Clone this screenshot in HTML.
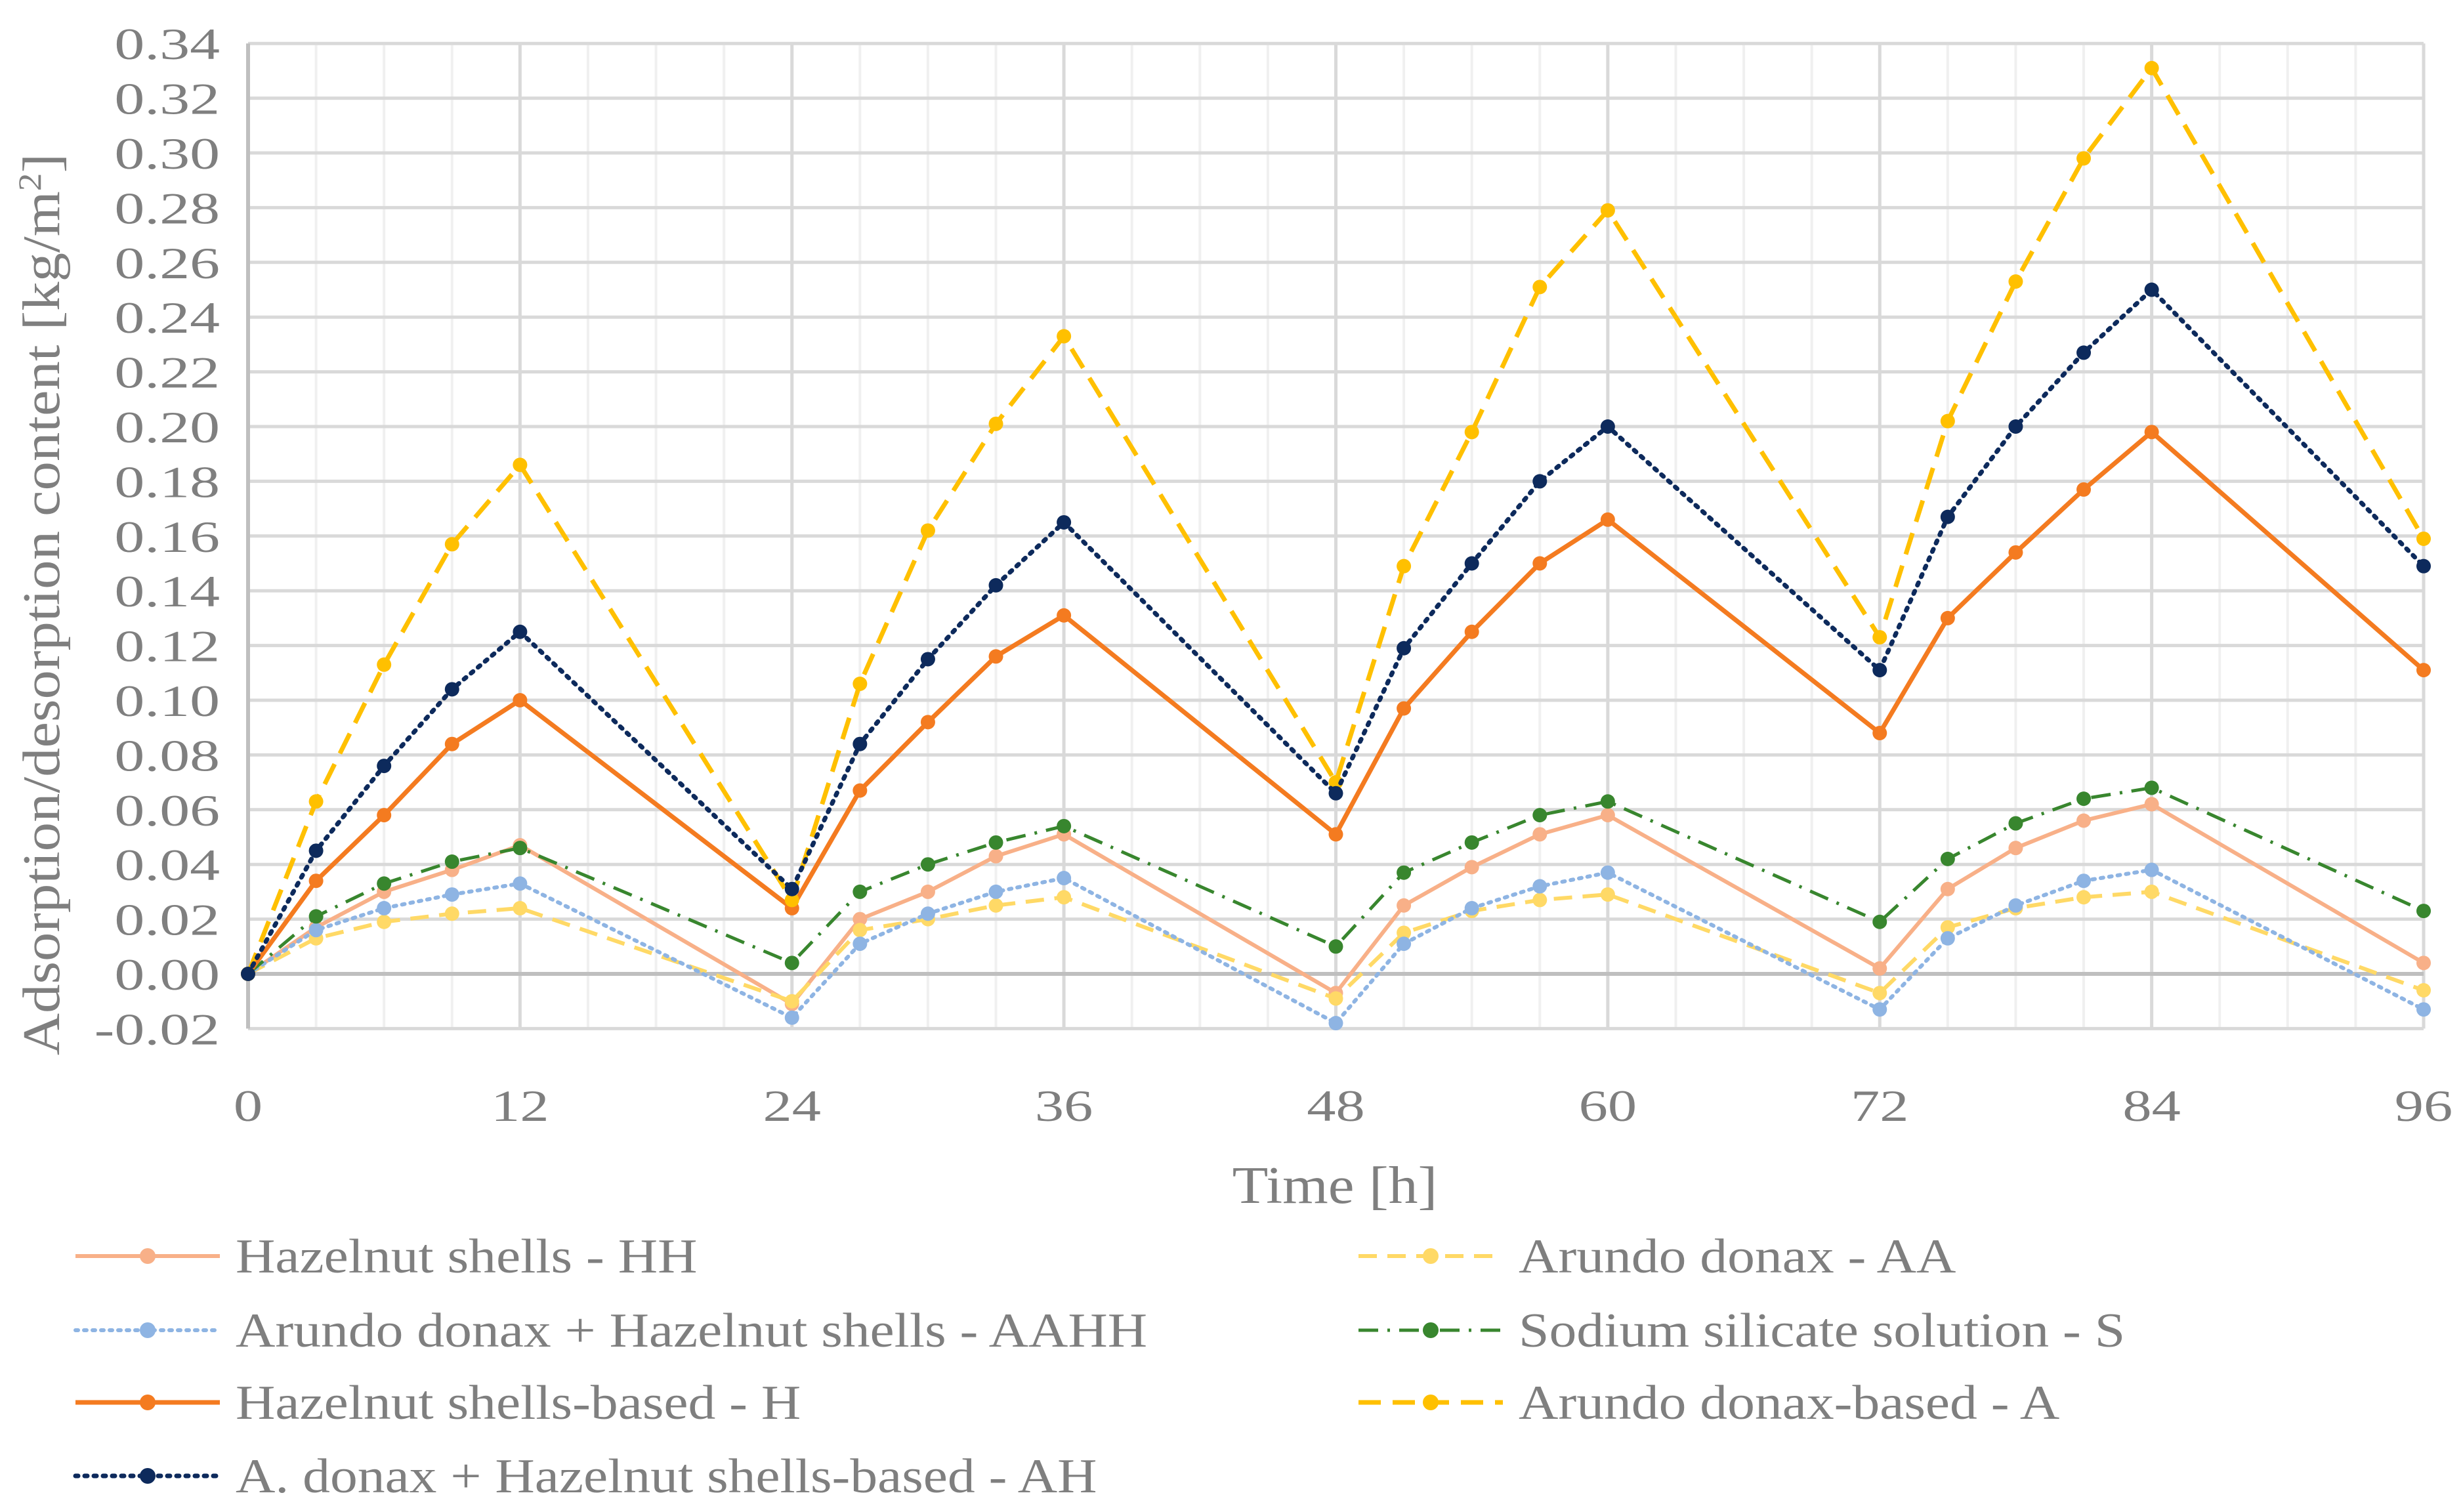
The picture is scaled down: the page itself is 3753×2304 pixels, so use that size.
<!DOCTYPE html>
<html><head><meta charset="utf-8"><style>
html,body{margin:0;padding:0;background:#fff;}
svg{display:block;font-family:"Liberation Serif",serif;}
</style></head><body>
<svg id="chart" width="3753" height="2304" viewBox="0 0 3753 2304" xmlns="http://www.w3.org/2000/svg">
<g id="grid"></g>
<g id="axes"></g>
<g id="series"></g>
<g id="legend"></g>
</svg>
<script>
const xValues=[0,3,6,9,12,24,27,30,33,36,48,51,54,57,60,72,75,78,81,84,96];
const xTicks=[0,12,24,36,48,60,72,84,96];
const yTicks=[-0.02,0,0.02,0.04,0.06,0.08,0.10,0.12,0.14,0.16,0.18,0.20,0.22,0.24,0.26,0.28,0.30,0.32,0.34];
const seriesHH=[0,.017,.030,.038,.047,-.011,.020,.030,.043,.051,-.007,.025,.039,.051,.058,.002,.031,.046,.056,.062,.004];
const seriesAA=[0,.013,.019,.022,.024,-.010,.016,.020,.025,.028,-.009,.015,.023,.027,.029,-.007,.017,.024,.028,.030,-.006];
const seriesAAHH=[0,.016,.024,.029,.033,-.016,.011,.022,.030,.035,-.018,.011,.024,.032,.037,-.013,.013,.025,.034,.038,-.013];
const seriesS=[0,.021,.033,.041,.046,.004,.030,.040,.048,.054,.010,.037,.048,.058,.063,.019,.042,.055,.064,.068,.023];
const seriesH=[0,.034,.058,.084,.100,.024,.067,.092,.116,.131,.051,.097,.125,.150,.166,.088,.130,.154,.177,.198,.111];
const seriesA=[0,.063,.113,.157,.186,.027,.106,.162,.201,.233,.070,.149,.198,.251,.279,.123,.202,.253,.298,.331,.159];
const seriesAH=[0,.045,.076,.104,.125,.031,.084,.115,.142,.165,.066,.119,.150,.180,.200,.111,.167,.200,.227,.250,.149];
const seriesNames=["Hazelnut shells - HH","Arundo donax - AA","Arundo donax + Hazelnut shells - AAHH","Sodium silicate solution - S","Hazelnut shells-based - H","Arundo donax-based - A","A. donax + Hazelnut shells-based - AH"];

const NS="http://www.w3.org/2000/svg";
const X0=378,X1=3693,Y0=1484,PER=83.4/0.02;
const xs=v=>X0+(X1-X0)*v/96;
const ys=v=>Y0-v*PER;
function mk(tag,attrs,parent){const e=document.createElementNS(NS,tag);for(const k in attrs)e.setAttribute(k,attrs[k]);parent.appendChild(e);return e;}
function txt(parent,x,y,size,sx,anchor,extra){const t=mk('text',Object.assign({x:0,y:0,'text-anchor':anchor,'font-size':size,fill:'#7f7f7f',transform:'translate('+x+','+y+') '+(extra||'')+' scale('+sx+',1)'}),parent);return t;}
const grid=document.getElementById('grid'),axes=document.getElementById('axes'),ser=document.getElementById('series'),leg=document.getElementById('legend');
const yTop=ys(0.34),yBot=ys(-0.02);
for(let h=3;h<=96;h+=3){const major=h%12===0;const l=mk('line',{x1:xs(h),x2:xs(h),y1:yTop,y2:yBot,stroke:major?'#d9d9d9':'#f0f0f0','stroke-width':major?5:4},grid);

}
yTicks.forEach(t=>{const l=mk('line',{x1:X0,x2:X1,y1:ys(t),y2:ys(t),stroke:t===0?'#bfbfbf':'#d9d9d9','stroke-width':t===0?6:5},grid);


const tx=txt(axes,335,ys(t)+24,68,1.35,'end');tx.textContent=t.toFixed(2);

});
const ax=mk('line',{x1:X0,x2:X0,y1:yTop,y2:yBot,stroke:'#bfbfbf','stroke-width':6},axes);


xTicks.forEach(t=>{const tx=txt(axes,xs(t),1708,68,1.3,'middle');tx.textContent=t;

});
const xt=txt(axes,2034,1833,80,1.12,'middle');xt.textContent='Time [h]';


const yt=txt(axes,90,921,80,1.11,'middle','rotate(-90)');yt.innerHTML='Adsorption/desorption content [kg/m<tspan dy="-28" font-size="50">2</tspan><tspan dy="28">]</tspan>';



const styles=[
 {d:seriesHH,c:'#f8b088',dash:'',w:6},
 {d:seriesAA,c:'#ffd966',dash:'28 16',w:6},
 {d:seriesAAHH,c:'#8eb4e3',dash:'4 9',w:6,cap:'round'},
 {d:seriesS,c:'#38862e',dash:'30 14 4 14',w:5},
 {d:seriesH,c:'#f47b20',dash:'',w:7},
 {d:seriesA,c:'#ffc000',dash:'34 18',w:7},
 {d:seriesAH,c:'#0d2a5c',dash:'4 10',w:7,cap:'round'}];
const drawOrder=[0,1,2,3,4,5,6];
drawOrder.forEach(i=>{const s=styles[i];const g=mk('g',{},ser);


const pts=s.d.map((v,k)=>xs(xValues[k])+','+ys(v)).join(' ');
const pl=mk('polyline',{points:pts,fill:'none',stroke:s.c,'stroke-width':s.w,'stroke-dasharray':s.dash,'stroke-linecap':s.cap||'butt','stroke-linejoin':'round'},g);


s.d.forEach((v,k)=>{const c=mk('circle',{cx:xs(xValues[k]),cy:ys(v),r:11,fill:s.c},g);

});});

const legPos=[[115,1914],[2070,1914],[115,2027],[2070,2027],[115,2137],[2070,2137],[115,2249]];
legPos.forEach((p,i)=>{const s=styles[i];const g=mk('g',{},leg);


const l=mk('line',{x1:p[0],x2:p[0]+220,y1:p[1],y2:p[1],stroke:s.c,'stroke-width':s.w,'stroke-dasharray':s.dash,'stroke-linecap':s.cap||'butt'},g);


const c=mk('circle',{cx:p[0]+110,cy:p[1],r:12,fill:s.c},g);


const t=txt(g,p[0]+244,p[1]+25,74,1.13,'start');t.textContent=seriesNames[i];

});
</script>
</body></html>
